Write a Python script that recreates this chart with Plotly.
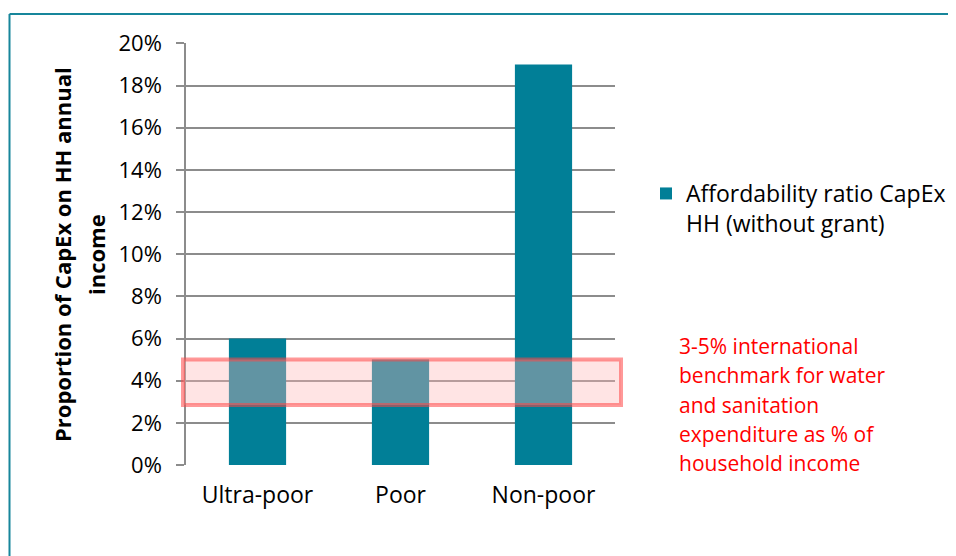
import plotly.graph_objects as go

categories = ["Ultra-poor", "Poor", "Non-poor"]
ratio_capex = [6, 5, 19]
series_name = "Affordability ratio CapEx<br>HH (without grant)"
benchmark_low = 2.85
benchmark_high = 5.0
benchmark_lines = [
    "3-5% international",
    "benchmark for water",
    "and sanitation",
    "expenditure as % of",
    "household income",
]
title_lines = ["Proportion of CapEx on HH annual", "income"]

FONT = "Open Sans, sans-serif"
TEAL = "#017F97"
W, H = 948, 548  # page adds an 8px body margin

# plot area on screen: x 186..615, y 43..465
def px(x):
    return (x - 186) / 429

def py(y):
    return (465 - y) / 422

fig = go.Figure()

fig.add_trace(go.Bar(
    x=categories,
    y=ratio_capex,
    name=series_name,
    marker=dict(color=TEAL, line=dict(width=0)),
    width=0.4,
    showlegend=True,
))

# benchmark band (3-5%)
fig.add_shape(
    type="rect", xref="paper", yref="y",
    x0=px(183), x1=px(621), y0=benchmark_low, y1=benchmark_high,
    line=dict(color="rgba(255,70,70,0.55)", width=4),
    fillcolor="rgba(255,185,185,0.38)",
    layer="above",
)

# frame lines around the chart
fig.add_shape(type="line", xref="paper", yref="paper",
              x0=px(9.5), x1=px(956), y0=py(14), y1=py(14),
              line=dict(color="#17869B", width=2))
fig.add_shape(type="line", xref="paper", yref="paper",
              x0=px(9.5), x1=px(9.5), y0=py(14), y1=py(556),
              line=dict(color="#17869B", width=2))

for i, txt in enumerate(benchmark_lines):
    fig.add_annotation(
        xref="paper", yref="paper",
        x=px(677), y=py(346 + 29.3 * i),
        xanchor="left", yanchor="middle",
        text=txt, showarrow=False,
        font=dict(family=FONT, size=21, color="#FF0000"),
    )

for i, txt in enumerate(title_lines):
    fig.add_annotation(
        xref="paper", yref="paper",
        x=px(62 + 34 * i), y=py(255),
        xanchor="center", yanchor="middle",
        text=f"<b>{txt}</b>",
        textangle=-90, showarrow=False,
        font=dict(family=FONT, size=22, color="#000000"),
    )

fig.update_layout(
    width=W, height=H,
    margin=dict(l=178, r=341, t=35, b=91),
    paper_bgcolor="white", plot_bgcolor="white",
    font=dict(family=FONT, size=23, color="#000000"),
    legend=dict(
        xref="container", yref="container",
        x=(646 - 8) / W, y=1 - (172 - 8) / H,
        xanchor="left", yanchor="top",
        valign="top",
        font=dict(family=FONT, size=23),
        bgcolor="rgba(0,0,0,0)",
        itemwidth=30,
    ),
)

fig.update_xaxes(
    showline=False, showgrid=False, ticks="",
    ticklabelstandoff=14,
    tickfont=dict(family=FONT, size=23),
)
fig.update_yaxes(
    range=[0, 20.02],
    tickvals=[0, 2, 4, 6, 8, 10, 12, 14, 16, 18, 20],
    ticktext=[f"{v}%" for v in range(0, 21, 2)],
    showgrid=True, gridcolor="#8C8C8C", gridwidth=1.5,
    zeroline=True, zerolinecolor="rgba(0,0,0,0)",
    showline=True, linecolor="#8C8C8C", linewidth=1.5,
    ticks="outside", ticklen=8, tickcolor="#8C8C8C", tickwidth=1.5,
    ticklabelstandoff=10,
    tickfont=dict(family=FONT, size=22),
)

fig.write_html("out.html")
